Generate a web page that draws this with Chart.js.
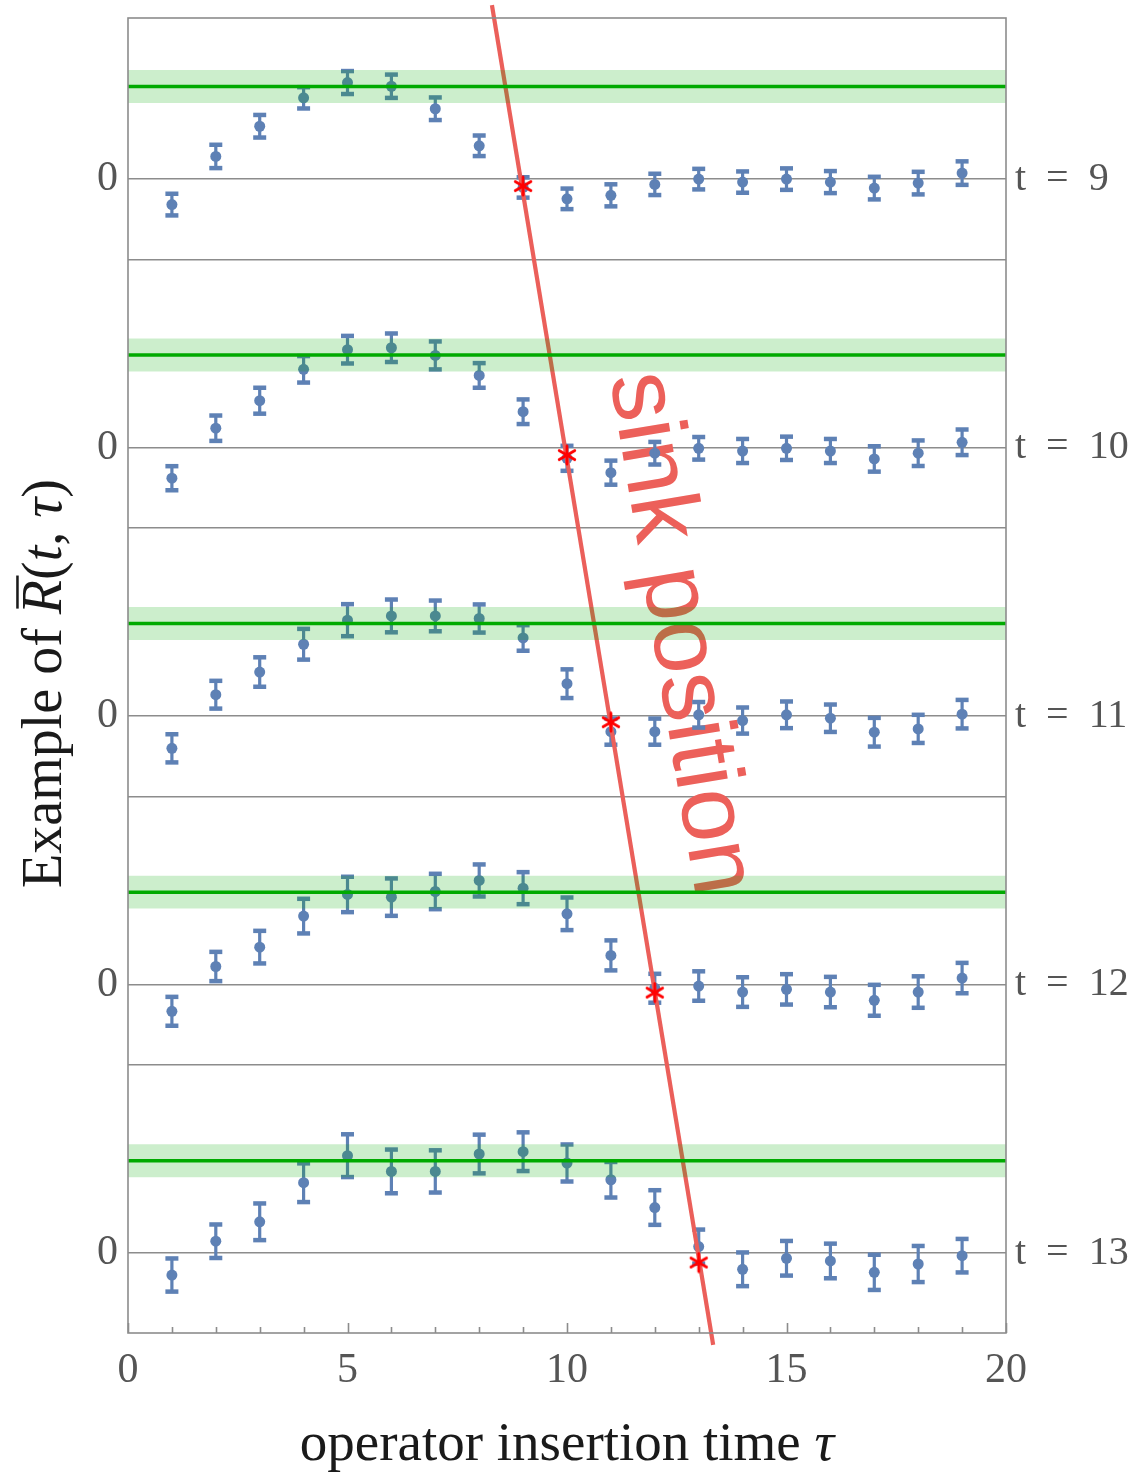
<!DOCTYPE html>
<html>
<head>
<meta charset="utf-8">
<script src="https://cdn.jsdelivr.net/npm/chart.js@4.4.1/dist/chart.umd.min.js"></script>
<style>
  body { margin: 0; background: #fff; }
  canvas { display: block; }
</style>
</head>
<body>
<canvas id="chart" width="1137" height="1474"></canvas>
<script>
// operator insertion times tau
const tau = [1, 2, 3, 4, 5, 6, 7, 8, 9, 10, 11, 12, 13, 14, 15, 16, 17, 18, 19];
// sink times, one panel each (top to bottom)
const sinkT = [9, 10, 11, 12, 13];

// R(t, tau), with errors
const R9  = [-0.275, 0.245, 0.571, 0.878, 1.043, 1.003, 0.760, 0.360, -0.090, -0.213, -0.175, -0.057, 0.000, -0.032, 0.000, -0.032, -0.097, -0.043, 0.065];
const E9  = [0.117, 0.126, 0.122, 0.115, 0.124, 0.126, 0.122, 0.111, 0.110, 0.111, 0.119, 0.115, 0.111, 0.115, 0.116, 0.119, 0.122, 0.122, 0.127];
const R10 = [-0.330, 0.210, 0.507, 0.846, 1.058, 1.079, 0.996, 0.780, 0.388, -0.115, -0.270, -0.060, -0.007, -0.036, -0.007, -0.036, -0.122, -0.060, 0.058];
const E10 = [0.130, 0.137, 0.140, 0.143, 0.149, 0.154, 0.151, 0.133, 0.133, 0.135, 0.130, 0.122, 0.122, 0.130, 0.126, 0.130, 0.137, 0.138, 0.138];
const R11 = [-0.347, 0.232, 0.477, 0.777, 1.037, 1.083, 1.083, 1.055, 0.845, 0.351, -0.167, -0.167, 0.015, -0.047, 0.015, -0.022, -0.173, -0.137, 0.022];
const E11 = [0.152, 0.150, 0.159, 0.166, 0.173, 0.177, 0.166, 0.152, 0.138, 0.155, 0.141, 0.141, 0.138, 0.141, 0.144, 0.148, 0.155, 0.152, 0.154];
const R12 = [-0.287, 0.197, 0.406, 0.741, 0.975, 0.946, 1.007, 1.126, 1.043, 0.766, 0.317, -0.038, -0.014, -0.079, -0.050, -0.079, -0.168, -0.079, 0.072];
const E12 = [0.156, 0.158, 0.176, 0.187, 0.191, 0.202, 0.191, 0.173, 0.173, 0.176, 0.162, 0.156, 0.159, 0.160, 0.164, 0.164, 0.167, 0.170, 0.164];
const R13 = [-0.235, 0.130, 0.340, 0.762, 1.054, 0.884, 0.884, 1.072, 1.097, 0.975, 0.794, 0.494, 0.072, -0.173, -0.054, -0.083, -0.206, -0.116, -0.026];
const E13 = [0.179, 0.181, 0.198, 0.209, 0.231, 0.236, 0.228, 0.209, 0.209, 0.200, 0.192, 0.187, 0.184, 0.182, 0.187, 0.187, 0.190, 0.195, 0.181];

// plateau (green) and its band
const plateau = 1.0;
const plateauErr = 0.178;

// red stars at tau = t
const starVal = [-0.075, -0.08, -0.065, -0.085, -0.1];

// "sink position" line, in plot coordinates
const sinkLineX = [8.29, 13.33];
const sinkLineY = [13.48, -0.99];

const xTicks = [0, 5, 10, 15, 20];

const panelGap = 2.9;
const sepBelow = 0.867;
const panels = [R9, R10, R11, R12, R13];
const errors = [E9, E10, E11, E12, E13];

const blue = '#5e81b5';
const green = 'rgb(0,170,0)';
const bandColor = 'rgba(0,170,0,0.2)';
const red = '#eb5f5a';
const axisGray = '#8c8c8c';
const labelGray = '#555';

function offsetOf(k) { return (sinkT.length - 1 - k) * panelGap; }
const zeros = sinkT.map((t, k) => offsetOf(k));
const seps = sinkT.slice(1).map((t, k) => offsetOf(k) - sepBelow);

// points + error bars
const pts = [];
const bars = [];
panels.forEach((vals, k) => {
	const off = offsetOf(k);
	vals.forEach((v, i) => {
		pts.push({ x: tau[i], y: v + off });
		bars.push({ x: tau[i], y: v + off - errors[k][i] });
		bars.push({ x: tau[i], y: v + off + errors[k][i] });
		bars.push({ x: tau[i], y: null });
	});
});

const stars = sinkT.map((t, k) => ({ x: t, y: starVal[k] + offsetOf(k) }));

// asterisk marker
const star = document.createElement('canvas');
star.width = 22; star.height = 22;
(function () {
	const c = star.getContext('2d');
	c.strokeStyle = '#ff0000';
	c.lineWidth = 2.8;
	c.lineCap = 'round';
	[90, 30, 150].forEach(a => {
		const r = a * Math.PI / 180;
		c.beginPath();
		c.moveTo(11 - 9 * Math.cos(r), 11 - 9 * Math.sin(r));
		c.lineTo(11 + 9 * Math.cos(r), 11 + 9 * Math.sin(r));
		c.stroke();
	});
})();

const datasets = [];

datasets.push({
	label: 'R', data: pts, order: 10,
	pointRadius: 5.5, pointBackgroundColor: blue, pointBorderWidth: 0
});
datasets.push({
	label: 'err', data: bars, order: 9, showLine: true, spanGaps: false,
	borderColor: blue, borderWidth: 3.2,
	pointStyle: 'line', pointRadius: 6.5, pointBorderWidth: 4.5, pointBorderColor: blue
});

sinkT.forEach((t, k) => {
	const off = offsetOf(k);
	datasets.push({
		label: 'band' + t,
		data: [{ x: 0, y: off + plateau + plateauErr }, { x: 20, y: off + plateau + plateauErr }],
		showLine: true, borderWidth: 0, pointRadius: 0, order: 2,
		fill: '+1', backgroundColor: bandColor
	});
	datasets.push({
		label: 'bandlo' + t,
		data: [{ x: 0, y: off + plateau - plateauErr }, { x: 20, y: off + plateau - plateauErr }],
		showLine: true, borderWidth: 0, pointRadius: 0, order: 2, fill: false
	});
});

const greenLine = [];
sinkT.forEach((t, k) => {
	greenLine.push({ x: 0, y: offsetOf(k) + plateau });
	greenLine.push({ x: 20, y: offsetOf(k) + plateau });
	greenLine.push({ x: 10, y: null });
});
datasets.push({
	label: 'plateau', data: greenLine, showLine: true, spanGaps: false,
	borderColor: green, borderWidth: 3.5, pointRadius: 0, order: 1
});

datasets.push({
	label: 'sink', data: sinkLineX.map((x, i) => ({ x: x, y: sinkLineY[i] })),
	showLine: true, borderColor: red, borderWidth: 4.2, pointRadius: 0, order: 5, clip: false
});
datasets.push({
	label: 'stars', data: stars, pointStyle: star, pointRadius: 10, order: 4
});

function serif(size, italic) {
	return (italic ? 'italic ' : '') + size + 'px "Liberation Serif"';
}

function drawRich(ctx, parts, size) {
	let total = 0;
	parts.forEach(p => {
		ctx.font = serif(size, p.it);
		p.w = ctx.measureText(p.s).width;
		total += p.w;
	});
	let x = -total / 2;
	parts.forEach(p => {
		ctx.font = serif(size, p.it);
		ctx.fillText(p.s, x, 0);
		if (p.bar) ctx.fillRect(x + size * 0.1, -size * 0.8, p.w - size * 0.02, size * 0.045);
		x += p.w;
	});
}

const decor = {
	id: 'decor',
	beforeDatasetsDraw(chart) {
		const ctx = chart.ctx;
		const xs = chart.scales.x, ys = chart.scales.y;
		const x1 = xs.getPixelForValue(sinkLineX[0]), y1 = ys.getPixelForValue(sinkLineY[0]);
		const x2 = xs.getPixelForValue(sinkLineX[1]), y2 = ys.getPixelForValue(sinkLineY[1]);
		ctx.save();
		ctx.translate(xs.getPixelForValue(10.98), ys.getPixelForValue(9.46));
		ctx.rotate(Math.atan2(y2 - y1, x2 - x1));
		ctx.font = '96px "Liberation Sans"';
		ctx.fillStyle = '#ec605a';
		ctx.textBaseline = 'alphabetic';
		ctx.fillText('sink position', 0, 0);
		ctx.restore();
	},
	afterDraw(chart) {
		const ctx = chart.ctx;
		const a = chart.chartArea;
		const xs = chart.scales.x;
		ctx.save();
		// frame
		ctx.strokeStyle = axisGray;
		ctx.lineWidth = 1.6;
		ctx.strokeRect(a.left, a.top, a.right - a.left, a.bottom - a.top);
		// inward ticks on bottom
		for (let v = 0; v <= 20; v++) {
			const px = Math.round(xs.getPixelForValue(v)) + 0.5;
			const len = v % 5 === 0 ? 10 : 6;
			ctx.beginPath();
			ctx.moveTo(px, a.bottom);
			ctx.lineTo(px, a.bottom - len);
			ctx.stroke();
		}
		// axis titles
		ctx.fillStyle = '#1a1a1a';
		ctx.textBaseline = 'alphabetic';
		ctx.save();
		ctx.translate((a.left + a.right) / 2, 1460);
		drawRich(ctx, [{ s: 'operator insertion time ' }, { s: '\u03c4', it: true }], 55);
		ctx.restore();
		ctx.save();
		ctx.translate(61, (a.top + a.bottom) / 2 + 8);
		ctx.rotate(-Math.PI / 2);
		drawRich(ctx, [
			{ s: 'Example of ' }, { s: 'R', it: true, bar: true }, { s: '(' },
			{ s: 't', it: true }, { s: ', ' }, { s: '\u03c4', it: true }, { s: ')' }
		], 56);
		ctx.restore();
		ctx.restore();
	}
};

const isZero = v => zeros.some(z => Math.abs(z - v) < 1e-6);
const noPadV = s => { s.paddingTop = 0; s.paddingBottom = 0; };

new Chart(document.getElementById('chart'), {
	type: 'scatter',
	data: { datasets: datasets },
	options: {
		responsive: false,
		animation: false,
		layout: { padding: { top: 18 } },
		plugins: {
			legend: { display: false },
			tooltip: { enabled: false }
		},
		scales: {
			x: {
				type: 'linear', position: 'bottom', min: 0, max: 20,
				afterBuildTicks: s => { s.ticks = xTicks.map(v => ({ value: v })); },
				afterFit: s => { s.height = 141; s.paddingLeft = 0; s.paddingRight = 0; },
				grid: { display: false, drawTicks: false },
				border: { display: false },
				ticks: { font: { family: 'Liberation Serif', size: 42 }, color: labelGray, padding: 13, maxRotation: 0 }
			},
			y: {
				type: 'linear', position: 'left', min: -0.861, max: 13.34,
				afterBuildTicks: s => { s.ticks = zeros.concat(seps).sort((p, q) => p - q).map(v => ({ value: v })); },
				afterFit: s => { s.width = 128; noPadV(s); },
				grid: { color: axisGray, lineWidth: 1.6, drawTicks: false },
				border: { display: false },
				ticks: {
					autoSkip: false, padding: 10, color: labelGray,
					font: { family: 'Liberation Serif', size: 42 },
					callback: v => isZero(v) ? '0' : ''
				}
			},
			y2: {
				type: 'linear', position: 'right', min: -0.861, max: 13.34,
				afterBuildTicks: s => { s.ticks = zeros.slice().reverse().map(v => ({ value: v })); },
				afterFit: s => { s.width = 131; noPadV(s); },
				grid: { display: false, drawTicks: false },
				border: { display: false },
				ticks: {
					autoSkip: false, padding: 9, color: labelGray,
					font: { family: 'Liberation Serif', size: 40 },
					callback: v => {
						const k = zeros.findIndex(z => Math.abs(z - v) < 1e-6);
						return 't\u2002=\u2002' + sinkT[k];
					}
				}
			}
		}
	},
	plugins: [decor]
});
</script>
</body>
</html>
